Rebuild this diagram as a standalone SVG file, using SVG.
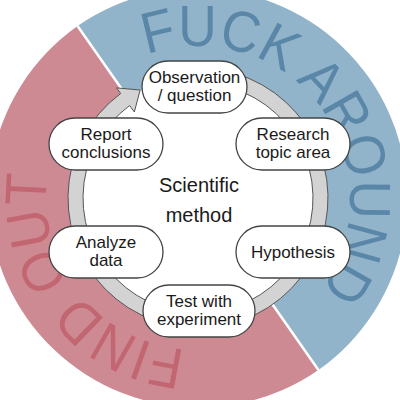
<svg xmlns="http://www.w3.org/2000/svg" width="400" height="400" viewBox="0 0 400 400">
<style>
.node rect{fill:#fff;stroke:#444;stroke-width:1.3}
.node text,.title{font-family:"Liberation Sans",Arial,sans-serif;fill:#1a1a1a;text-anchor:middle}
.node text{font-size:17px}
.title{font-size:20px}
.ring{font-family:"Liberation Sans",Arial,sans-serif;font-size:58px}
</style>
<defs>
<path id="arcTop" d="M146.76,54.9 A152,152 0 0 1 274,329.64"/>
<path id="arcBot" d="M185.55,349.49 A152,152 0 0 1 55.17,146.01"/>
</defs>
<rect width="400" height="400" fill="#fff"/>
<g id="background">
<path d="M198,198 L77.55,25.98 A210,210 0 0 1 318.45,370.02 Z" fill="#92b4ca"/>
<path d="M198,198 L318.45,370.02 A210,210 0 0 1 77.55,25.98 Z" fill="#cd8a93"/>
<line x1="77.55" y1="25.98" x2="318.45" y2="370.02" stroke="#fff" stroke-width="2.5"/>
<text class="ring" fill="#5a87a8"><textPath href="#arcTop" textLength="389" lengthAdjust="spacingAndGlyphs">FUCK AROUND</textPath></text>
<text class="ring" fill="#c26672"><textPath href="#arcBot" textLength="250" lengthAdjust="spacingAndGlyphs">FIND OUT</textPath></text>
<circle cx="198" cy="198" r="122" fill="#fff"/>
</g>
<g id="connectors">
<path d="M220.57,69.97 A130,130 0 1 1 120.67,93.5 L116.51,87.87 L140.11,90.04 L134.35,111.99 L129.6,105.56 A115,115 0 1 0 217.97,84.75 Z" fill="#d3d3d3" stroke="#555" stroke-width="1"/>
</g>
<text class="title" x="199" y="192">Scientific</text>
<text class="title" x="199" y="222">method</text>
<g id="observation" class="node"><rect x="142" y="61" width="105" height="52" rx="26"/><text x="194.5" y="83">Observation</text><text x="194.5" y="101">/ question</text></g>
<g id="research" class="node"><rect x="236" y="118" width="114" height="52" rx="26"/><text x="293" y="140">Research</text><text x="293" y="158">topic area</text></g>
<g id="hypothesis" class="node"><rect x="236" y="226" width="114" height="52" rx="26"/><text x="293" y="258">Hypothesis</text></g>
<g id="test" class="node"><rect x="143" y="285" width="112" height="52" rx="26"/><text x="199" y="307">Test with</text><text x="199" y="325">experiment</text></g>
<g id="analyze" class="node"><rect x="49" y="226" width="114" height="52" rx="26"/><text x="106" y="248">Analyze</text><text x="106" y="266">data</text></g>
<g id="report" class="node"><rect x="49" y="118" width="114" height="52" rx="26"/><text x="106" y="140">Report</text><text x="106" y="158">conclusions</text></g>
</svg>
